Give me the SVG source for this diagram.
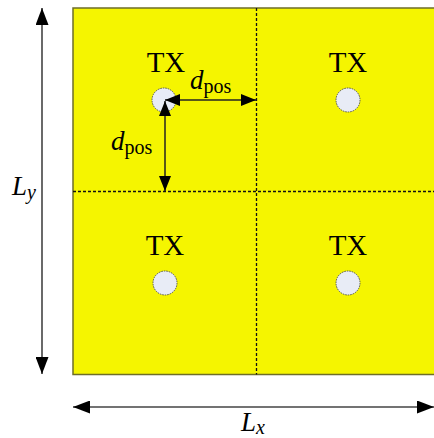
<svg xmlns="http://www.w3.org/2000/svg" width="434" height="438" viewBox="0 0 434 438">
<defs>
<style>
.lbl{font-family:"Liberation Serif","Times New Roman",serif;fill:#000}
.tx{font-size:29px;text-anchor:middle}
.it{font-style:italic}
.node{fill:#e8ecf6;stroke:#555;stroke-width:1;stroke-dasharray:1.5 1}
.grid{stroke:#111;stroke-width:1.3;stroke-dasharray:3 2;fill:none}
.dim{stroke:#444;stroke-width:1.6;fill:none}
.dpos{stroke:#222;stroke-width:1.5;fill:none}
</style>
<marker id="ah" viewBox="0 0 17 13" refX="17" refY="6.5" markerWidth="17" markerHeight="13" markerUnits="userSpaceOnUse" orient="auto-start-reverse">
<path d="M0,0 L17,6.5 L0,13 Z" fill="#000"/>
</marker>
<marker id="ahs" viewBox="0 0 15 12" refX="15" refY="6" markerWidth="15" markerHeight="12" markerUnits="userSpaceOnUse" orient="auto-start-reverse">
<path d="M0,0 L15,6 L0,12 Z" fill="#000"/>
</marker>
</defs>
<g id="area">
<rect x="73" y="8" width="370" height="366.5" fill="#f5f500" stroke="#6e6e28" stroke-width="1.5"/>
<line class="grid" x1="256.5" y1="8" x2="256.5" y2="374.5"/>
<line class="grid" x1="73" y1="191.5" x2="440" y2="191.5"/>
</g>
<g id="tx1"><text class="lbl tx" x="166" y="72">TX</text><circle class="node" cx="164" cy="100" r="12"/></g>
<g id="tx2"><text class="lbl tx" x="348" y="72">TX</text><circle class="node" cx="348" cy="100" r="12"/></g>
<g id="tx3"><text class="lbl tx" x="165" y="255">TX</text><circle class="node" cx="165" cy="283" r="12"/></g>
<g id="tx4"><text class="lbl tx" x="348" y="255">TX</text><circle class="node" cx="348" cy="283" r="12"/></g>
<g id="connectors">
<line class="dim" x1="42" y1="8" x2="42" y2="374" marker-start="url(#ah)" marker-end="url(#ah)"/>
<line class="dim" x1="73" y1="407" x2="434" y2="407" marker-start="url(#ah)" marker-end="url(#ah)"/>
<line class="dpos" x1="165" y1="100" x2="256" y2="100" marker-start="url(#ahs)" marker-end="url(#ahs)"/>
<line class="dpos" x1="165" y1="101" x2="165" y2="191" marker-start="url(#ahs)" marker-end="url(#ahs)"/>
</g>
<g id="labels">
<text class="lbl" x="190" y="89"><tspan class="it" font-size="27">d</tspan><tspan font-size="20" dy="4">pos</tspan></text>
<text class="lbl" x="111" y="150"><tspan class="it" font-size="27">d</tspan><tspan font-size="20" dy="4">pos</tspan></text>
<text class="lbl" x="12" y="195"><tspan class="it" font-size="27">L</tspan><tspan class="it" font-size="20" dy="4">y</tspan></text>
<text class="lbl" x="241" y="431"><tspan class="it" font-size="27">L</tspan><tspan class="it" font-size="20" dy="3">x</tspan></text>
</g>
</svg>
